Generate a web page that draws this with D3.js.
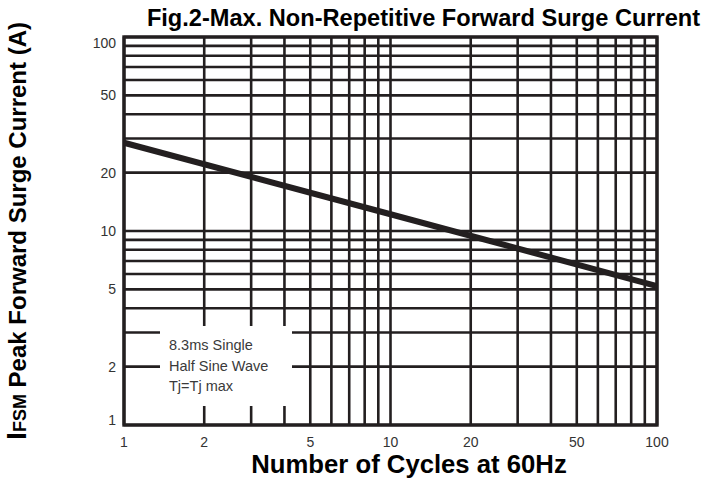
<!DOCTYPE html>
<html>
<head>
<meta charset="utf-8">
<script src="https://cdn.jsdelivr.net/npm/d3@7"></script>
<style>
  html, body { margin: 0; padding: 0; background: #fff; }
  svg { display: block; font-family: Arial, "Liberation Sans", Helvetica, sans-serif; }
</style>
</head>
<body>
<svg id="chart" width="704" height="479"></svg>
<script>
// ---- data ----
const cycles = [1, 10, 100];            // Number of cycles at 60Hz
const surgeCurrent = [28.5, 12.2, 5.2]; // IFSM peak forward surge current (A)
const xTickLabels = [1, 2, 5, 10, 20, 50, 100];
const yTickLabels = [1, 2, 5, 10, 20, 50, 100];
const gridValues = [1, 2, 3, 4, 5, 6, 7, 8, 9, 10, 20, 30, 40, 50, 60, 70, 80, 90, 100];
const noteLines = ["8.3ms Single", "Half Sine Wave", "Tj=Tj max"];
const titleText = "Fig.2-Max. Non-Repetitive Forward Surge Current";
const xTitleText = "Number of Cycles at 60Hz";

// ---- layout ----
const plotL = 124, plotR = 657, plotT = 37, plotB = 425;
const ink = "#231f20";

const svg = d3.select("#chart");
const x = d3.scaleLog().domain([1, 100]).range([plotL, plotR]);
const y = d3.scaleLog().domain([1, 100]).range([plotB, plotT]);

// grid
const g = svg.append("g");
g.selectAll("line.v").data(gridValues).join("line")
  .attr("class", "v")
  .attr("x1", d => x(d)).attr("x2", d => x(d))
  .attr("y1", plotT).attr("y2", plotB)
  .attr("stroke", ink).attr("stroke-width", 2.6);
g.selectAll("line.h").data(gridValues).join("line")
  .attr("class", "h")
  .attr("y1", d => y(d)).attr("y2", d => y(d))
  .attr("x1", plotL).attr("x2", plotR)
  .attr("stroke", ink).attr("stroke-width", 2.6);

// note box (white patch interrupting grid)
svg.append("rect")
  .attr("x", 160).attr("y", 326)
  .attr("width", 132).attr("height", 80)
  .attr("fill", "#fff");

const note = svg.append("g").attr("fill", "#3a3a3a")
  .style("font-size", "14.5px");
note.selectAll("text").data(noteLines).join("text")
  .attr("x", 169)
  .attr("y", (d, i) => 350 + i * 20.5)
  .text(d => d);

// frame
svg.append("rect")
  .attr("x", plotL).attr("y", plotT)
  .attr("width", plotR - plotL).attr("height", plotB - plotT)
  .attr("fill", "none").attr("stroke", ink).attr("stroke-width", 3.4);

// curve
const line = d3.line().x(d => x(d[0])).y(d => y(d[1]));
svg.append("path")
  .datum(cycles.map((c, i) => [c, surgeCurrent[i]]))
  .attr("d", line)
  .attr("fill", "none").attr("stroke", ink).attr("stroke-width", 6)
  .attr("stroke-linecap", "butt");

// axes labels
svg.append("g").attr("fill", "#333").style("font-size", "14px")
  .selectAll("text").data(xTickLabels).join("text")
  .attr("x", d => x(d)).attr("y", 446.5)
  .attr("text-anchor", "middle")
  .text(d => d);

svg.append("g").attr("fill", "#333").style("font-size", "14px")
  .selectAll("text").data(yTickLabels).join("text")
  .attr("x", 116)
  .attr("y", d => Math.min(Math.max(y(d), 43), 420))
  .attr("dy", "0.36em")
  .attr("text-anchor", "end")
  .text(d => d);

// titles
svg.append("text")
  .attr("x", 423.5).attr("y", 26)
  .attr("text-anchor", "middle")
  .style("font-size", "23.6px").style("font-weight", "bold")
  .attr("fill", "#000")
  .text(titleText);

svg.append("text")
  .attr("x", 409).attr("y", 473)
  .attr("text-anchor", "middle")
  .style("font-size", "25.7px").style("font-weight", "bold")
  .attr("fill", "#000")
  .text(xTitleText);

const yt = svg.append("text")
  .attr("transform", "translate(26,231) rotate(-90)")
  .attr("text-anchor", "middle")
  .style("font-weight", "bold")
  .attr("fill", "#000");
yt.append("tspan").style("font-size", "28.5px").text("I");
yt.append("tspan").style("font-size", "18px").text("FSM");
yt.append("tspan").style("font-size", "24px").text(" Peak Forward Surge Current (A)");
</script>
</body>
</html>
